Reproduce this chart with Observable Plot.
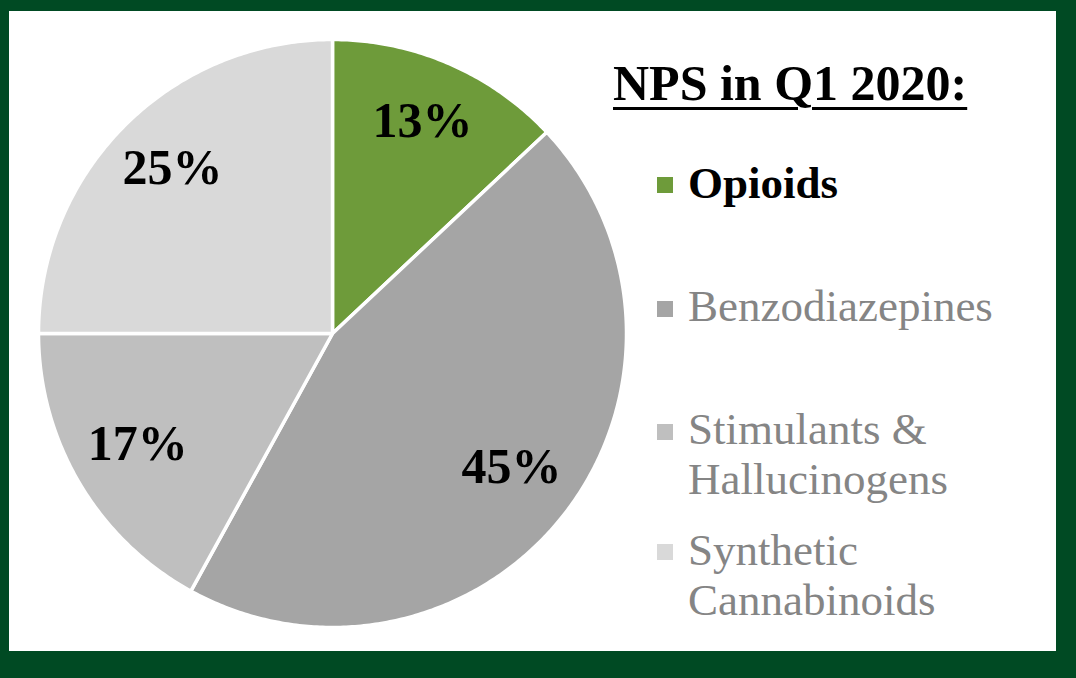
<!DOCTYPE html>
<html>
<head>
<meta charset="utf-8">
<script src="https://cdn.jsdelivr.net/npm/d3@7"></script>
<script src="https://cdn.jsdelivr.net/npm/@observablehq/plot@0.6"></script>
<style>
  html, body { margin: 0; padding: 0; }
  body { width: 1076px; height: 678px; background: #004a23; position: relative; overflow: hidden; font-family: "Liberation Serif", "Times New Roman", serif; }
  #panel { position: absolute; left: 9px; top: 11px; width: 1047px; height: 640px; background: #ffffff; }
  #chart { position: absolute; left: 0; top: 0; }
  .t { position: absolute; white-space: nowrap; line-height: 1; }
  .sw { position: absolute; width: 16px; height: 16px; }
</style>
</head>
<body>
<div id="panel"></div>
<div id="chart"></div>
<div id="overlay"></div>
<script>
const categories = ["Opioids", "Benzodiazepines", "Stimulants & Hallucinogens", "Synthetic Cannabinoids"];
const legendLines = [["Opioids"], ["Benzodiazepines"], ["Stimulants &", "Hallucinogens"], ["Synthetic", "Cannabinoids"]];
const shares = [13, 45, 17, 25];
const labels = ["13%", "45%", "17%", "25%"];
const colors = ["#6e9b3a", "#a5a5a5", "#bfbfbf", "#d9d9d9"];
const title = "NPS in Q1 2020:";

// pie geometry from data
const arcs = d3.pie().sort(null).value((d, i) => shares[i])(categories);
const pts = [];
const labelData = [];
arcs.forEach((a, i) => {
  const name = categories[i];
  pts.push({name, x: 0, y: 0});
  const n = Math.max(2, Math.ceil((a.endAngle - a.startAngle) / 0.01));
  for (let k = 0; k <= n; k++) {
    const t = a.startAngle + (a.endAngle - a.startAngle) * k / n;
    pts.push({name, x: Math.sin(t), y: Math.cos(t)});
  }
  pts.push({name, x: 0, y: 0});
  const m = (a.startAngle + a.endAngle) / 2;
  labelData.push({name, text: labels[i], x: 0.77 * Math.sin(m), y: 0.77 * Math.cos(m)});
});

const cx = 332, cy = 333, R = 294;
const plot = Plot.plot({
  width: 1076,
  height: 678,
  margin: 0,
  style: {background: "transparent", overflow: "visible"},
  x: {domain: [-1, 1], range: [cx - R, cx + R], axis: null},
  y: {domain: [-1, 1], range: [cy + R, cy - R], axis: null},
  color: {domain: categories, range: colors},
  marks: [
    Plot.line(pts, {x: "x", y: "y", z: "name", fill: "name", stroke: "white", strokeWidth: 3.5, strokeLinejoin: "round"}),
    Plot.text(labelData, {x: "x", y: "y", text: "text", fontSize: 50, fontWeight: "bold", fontFamily: "Liberation Serif", fill: "black", lineAnchor: "middle", textAnchor: "middle", dy: -5})
  ]
});
document.getElementById("chart").appendChild(plot);

// title & legend
const ov = document.getElementById("overlay");
function addText(txt, x, baseline, fs, weight, color, extra) {
  const d = document.createElement("div");
  d.className = "t";
  d.textContent = txt;
  d.style.left = x + "px";
  d.style.top = (baseline - 0.8375 * fs) + "px";
  d.style.fontSize = fs + "px";
  d.style.fontWeight = weight;
  d.style.color = color;
  if (extra) Object.assign(d.style, extra);
  ov.appendChild(d);
}
addText(title, 613, 100, 50, "bold", "#000", {textDecoration: "underline", textDecorationThickness: "3px", textUnderlineOffset: "7px"});

const legendTop = [177, 301, 424, 544];
const legendBase = [199, 322, 445, 566];
categories.forEach((c, i) => {
  const s = document.createElement("div");
  s.className = "sw";
  s.style.left = "657px";
  s.style.top = legendTop[i] + "px";
  s.style.background = colors[i];
  ov.appendChild(s);
  legendLines[i].forEach((line, j) => {
    addText(line, 688, legendBase[i] + j * 50, 45, i === 0 ? "bold" : "normal", i === 0 ? "#000" : "#858585");
  });
});
</script>
</body>
</html>
